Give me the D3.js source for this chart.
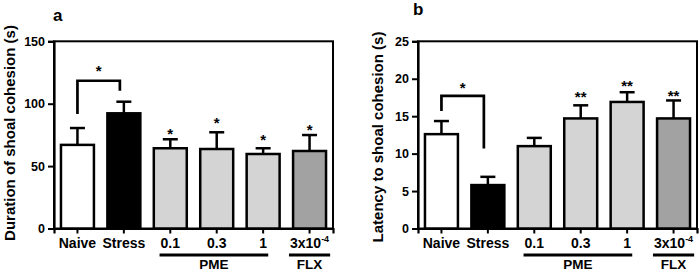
<!DOCTYPE html>
<html><head><meta charset="utf-8">
<script src="https://cdn.jsdelivr.net/npm/d3@7"></script>
<style>
html,body{margin:0;padding:0;background:#fff;}
svg{display:block;font-family:"Liberation Sans",Arial,sans-serif;font-weight:bold;}
</style></head>
<body>
<svg id="c" width="700" height="272"></svg>
<script>
// ---- data ----
const categories = ["Naive", "Stress", "0.1", "0.3", "1", "3x10^-4"];
const fills = ["#ffffff", "#000000", "#d4d4d4", "#d4d4d4", "#d4d4d4", "#a2a2a2"];
const groupNames = ["PME", "FLX"];
const groupMembers = [["0.1", "0.3", "1"], ["3x10^-4"]];

const durationMean = [67, 92.3, 64.3, 63.7, 59.7, 62.1];
const durationSem  = [13.5, 9.3, 7.2, 13.4, 4.6, 12.8];
const durationStars = ["", "", "*", "*", "*", "*"];
const durationStarY = [null, null, 78, 87, 73.3, 81.3];
const durationTicks = [0, 50, 100, 150];
const durationBracket = [118.4, 91.7, 110.4, 129]; // top, left leg end, right leg end, star

const latencyMean = [12.6, 5.8, 11.0, 14.7, 16.9, 14.7];
const latencySem  = [1.75, 1.1, 1.1, 1.75, 1.3, 2.4];
const latencyStars = ["", "", "", "**", "**", "**"];
const latencyStarY = [null, null, null, 18.0, 19.4, 18.05];
const latencyTicks = [0, 5, 10, 15, 20, 25];
const latencyBracket = [17.7, 15.7, 10.7, 19.2];

const svg = d3.select("#c");

function panel(opt) {
  const g = svg.append("g");
  const x = d3.scaleBand().domain(categories).range([opt.left, opt.right])
    .paddingInner(0.29).paddingOuter(0.15);
  const y = d3.scaleLinear().domain([0, opt.max]).range([228.5, 41.3]);
  const bw = x.bandwidth();
  const cx = c => x(c) + bw / 2;

  // frame
  g.append("rect").attr("x", opt.left).attr("y", y(opt.max))
    .attr("width", opt.right - opt.left).attr("height", y(0) - y(opt.max))
    .attr("fill", "none").attr("stroke", "#000").attr("stroke-width", 2);

  // y axis
  const ya = g.append("g").attr("transform", `translate(${opt.left},0)`)
    .call(d3.axisLeft(y).tickValues(opt.ticks).tickSize(6).tickPadding(3));
  ya.selectAll("path.domain").attr("stroke-width", 2.2);
  ya.selectAll(".tick line").attr("stroke-width", 2);
  ya.selectAll(".tick text").attr("font-size", 12.5).attr("font-weight", "bold")
    .attr("font-family", "Liberation Sans, Arial, sans-serif").attr("fill", "#000");

  // x axis ticks
  const xa = g.append("g").attr("transform", `translate(0,${y(0)})`)
    .call(d3.axisBottom(x).tickSize(5).tickFormat(""));
  xa.selectAll("path.domain").attr("stroke-width", 2.2);
  xa.selectAll(".tick line").attr("stroke-width", 2);

  // error bars
  categories.forEach((c, i) => {
    const top = y(opt.mean[i] + opt.sem[i]);
    g.append("line").attr("x1", cx(c)).attr("x2", cx(c))
      .attr("y1", y(opt.mean[i])).attr("y2", top)
      .attr("stroke", "#000").attr("stroke-width", 2.5);
    g.append("line").attr("x1", cx(c) - 7.5).attr("x2", cx(c) + 7.5)
      .attr("y1", top).attr("y2", top)
      .attr("stroke", "#000").attr("stroke-width", 2.5);
  });

  // bars
  g.selectAll("rect.bar").data(categories).enter().append("rect")
    .attr("class", "bar")
    .attr("x", c => x(c)).attr("width", bw)
    .attr("y", (c, i) => y(opt.mean[i]))
    .attr("height", (c, i) => y(0) - y(opt.mean[i]))
    .attr("fill", (c, i) => fills[i])
    .attr("stroke", "#000").attr("stroke-width", 2.5);

  // stars
  categories.forEach((c, i) => {
    if (!opt.stars[i]) return;
    g.append("text").attr("x", cx(c)).attr("y", y(opt.starY[i]) + 8)
      .attr("text-anchor", "middle").attr("font-size", 15).text(opt.stars[i]);
  });

  // bracket
  const b = opt.bracket;
  const xl = cx(categories[0]), xr = cx(categories[1]) - 4;
  g.append("path")
    .attr("d", `M${xl},${y(b[1])}V${y(b[0])}H${xr}V${y(b[2])}`)
    .attr("fill", "none").attr("stroke", "#000").attr("stroke-width", 2.7);
  g.append("text").attr("x", (xl + xr) / 2).attr("y", y(b[3]) + 8)
    .attr("text-anchor", "middle").attr("font-size", 15).text("*");

  // x labels
  const labels = {};
  categories.forEach(c => {
    const t = g.append("text").attr("x", cx(c)).attr("y", 248)
      .attr("text-anchor", "middle").attr("font-size", 14);
    if (c.includes("^")) {
      const [base, sup] = c.split("^");
      t.append("tspan").text(base);
      t.append("tspan").attr("font-size", 9).attr("dy", -6).text(sup);
    } else {
      t.text(c);
    }
    labels[c] = t;
  });

  // group lines
  groupNames.forEach((name, k) => {
    const mem = groupMembers[k];
    const b0 = labels[mem[0]].node().getBBox();
    const b1 = labels[mem[mem.length - 1]].node().getBBox();
    const x0 = b0.x - 1, x1 = b1.x + b1.width + 1;
    g.append("line").attr("x1", x0).attr("x2", x1).attr("y1", 255).attr("y2", 255)
      .attr("stroke", "#000").attr("stroke-width", 3);
    g.append("text").attr("x", (x0 + x1) / 2).attr("y", 269)
      .attr("text-anchor", "middle").attr("font-size", 13.5).text(name);
  });

  // y title
  g.append("text").attr("transform", `translate(${opt.titleX},${opt.titleY}) rotate(-90)`)
    .attr("text-anchor", "middle").attr("font-size", 15).text(opt.title);

  // panel letter
  g.append("text").attr("x", opt.letterX).attr("y", opt.letterY)
    .attr("font-size", 17).text(opt.letter);
}

panel({left: 54, right: 333, max: 150, ticks: durationTicks, mean: durationMean,
  sem: durationSem, stars: durationStars, starY: durationStarY, bracket: durationBracket,
  title: "Duration of shoal cohesion (s)", titleX: 15, titleY: 133,
  letter: "a", letterX: 53, letterY: 21});
panel({left: 418, right: 697, max: 25, ticks: latencyTicks, mean: latencyMean,
  sem: latencySem, stars: latencyStars, starY: latencyStarY, bracket: latencyBracket,
  title: "Latency to shoal cohesion (s)", titleX: 383, titleY: 137,
  letter: "b", letterX: 413, letterY: 15});
</script>
</body></html>
